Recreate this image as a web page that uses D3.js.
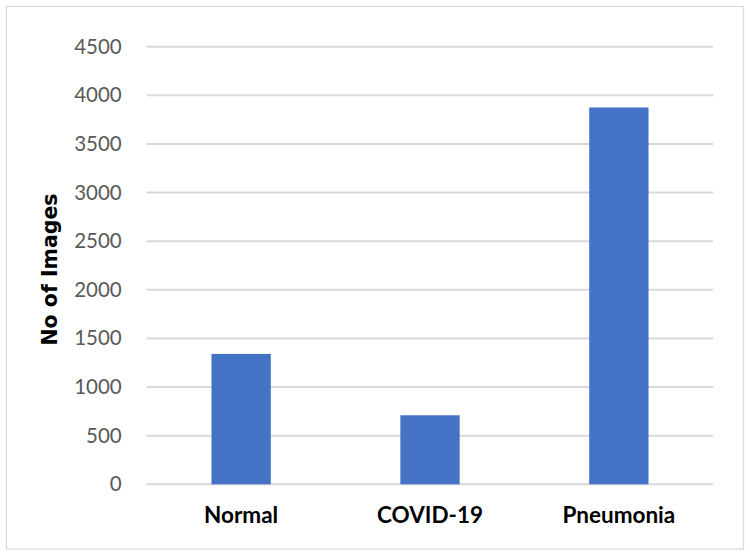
<!DOCTYPE html>
<html>
<head>
<meta charset="utf-8">
<script src="https://cdn.jsdelivr.net/npm/d3@7"></script>
<style>
  html, body { margin: 0; padding: 0; background: #fff; }
  svg { display: block; }
</style>
</head>
<body>
<svg id="chart" width="750" height="555"></svg>
<script>
const categories = ["Normal", "COVID-19", "Pneumonia"];
const values = [1341, 710, 3875];
const yTicks = [0, 500, 1000, 1500, 2000, 2500, 3000, 3500, 4000, 4500];
const yTitle = "No of Images";

const svg = d3.select("#chart");
const W = 750, H = 555;
const margin = { left: 146.7, right: W - 713.3, top: 46.7, bottom: H - 484.3 };

// outer frame
svg.append("rect")
  .attr("x", 6.5).attr("y", 6.5)
  .attr("width", 737).attr("height", 542.5)
  .attr("fill", "#fff")
  .attr("stroke", "#d9d9d9").attr("stroke-width", 1.2);

const x = d3.scaleBand()
  .domain(categories)
  .range([margin.left, W - margin.right])
  .paddingInner(0.686)
  .paddingOuter(0.343);

const y = d3.scaleLinear()
  .domain([0, 4500])
  .range([H - margin.bottom, margin.top]);

// gridlines
svg.append("g")
  .selectAll("line")
  .data(yTicks)
  .join("line")
  .attr("x1", margin.left).attr("x2", W - margin.right)
  .attr("y1", d => y(d)).attr("y2", d => y(d))
  .attr("stroke", "#d9d9d9").attr("stroke-width", 2);

// y axis labels
const yAxis = d3.axisLeft(y).tickValues(yTicks).tickFormat(d3.format("d")).tickSize(0).tickPadding(25);
const gy = svg.append("g")
  .attr("transform", `translate(${margin.left},0)`)
  .call(yAxis);
gy.select(".domain").remove();
gy.selectAll("text")
  .attr("fill", "#595959")
  .style("font-family", "Lato, 'Open Sans', sans-serif")
  .style("font-size", "20.5px");

// bars
svg.append("g")
  .selectAll("rect")
  .data(categories.map((c, i) => ({ c, v: values[i] })))
  .join("rect")
  .attr("x", d => x(d.c))
  .attr("width", x.bandwidth())
  .attr("y", d => y(d.v))
  .attr("height", d => y(0) - y(d.v))
  .attr("fill", "#4472C4");

// x axis labels
const xAxis = d3.axisBottom(x).tickSize(0).tickPadding(22.7);
const gx = svg.append("g")
  .attr("transform", `translate(0,${y(0)})`)
  .call(xAxis);
gx.select(".domain").remove();
gx.selectAll("text")
  .attr("fill", "#000")
  .style("font-family", "Lato, 'Open Sans', sans-serif")
  .style("font-weight", "bold")
  .style("font-size", "22.5px");

// y title
svg.append("text")
  .attr("transform", `translate(56.5,269.5) rotate(-90)`)
  .attr("text-anchor", "middle")
  .attr("fill", "#000")
  .style("font-family", "'DejaVu Sans', Verdana, sans-serif")
  .style("font-weight", "bold")
  .style("font-size", "20.5px")
  .text(yTitle);
</script>
</body>
</html>
